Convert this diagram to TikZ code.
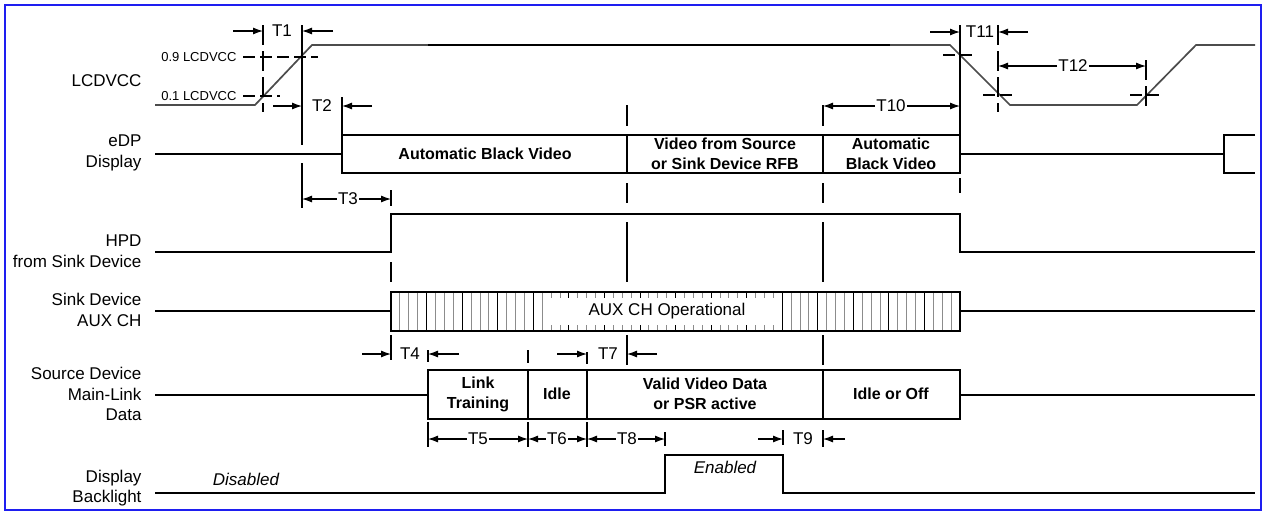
\documentclass[tikz,border=0pt]{standalone}
\usepackage{fontspec}
\setmainfont{Liberation Sans}
\usetikzlibrary{arrows.meta}
\definecolor{framblue}{HTML}{1E1EF0}
\definecolor{hatchgray}{HTML}{8C8C8C}

\begin{document}
\begin{tikzpicture}[x=1pt, y=-1pt, >={Latex[length=10pt,width=7pt]},
  sig/.style={line width=2.9pt},
  vcc/.style={line width=1.7pt, black!70},
  guide/.style={line width=1.2pt},
  dguide/.style={line width=1.2pt, dash pattern=on 20pt off 6pt},
  lvl/.style={line width=1.2pt, dash pattern=on 12pt off 5pt},
  dim/.style={line width=1.1pt, ->},
  lbl/.style={anchor=east, align=right, font=\fontsize{17}{20.5}\selectfont},
  lvllab/.style={anchor=east, font=\fontsize{13}{14}\selectfont},
  tlab/.style={font=\fontsize{17}{18}\selectfont, inner sep=1pt},
  boxtxt/.style={align=center, font=\bfseries\fontsize{16}{20}\selectfont},
  mode/.style={font=\itshape\fontsize{17}{20}\selectfont}]
\useasboundingbox (0,0) rectangle (1263,512);
\draw[framblue, line width=1.5pt] (5,5) rectangle (1261,510);

% signal names
\node[lbl] (nvcc) at (145,81) {LCDVCC};
\node[lbl] (nedp) at (145,153) {eDP\\Display};
\node[lbl] (nhpd) at (145,251) {HPD\\from Sink Device};
\node[lbl] (naux) at (145,310) {Sink Device\\AUX CH};
\node[lbl] (nml) at (145,394) {Source Device\\Main-Link\\Data};
\node[lbl] (nbl) at (145,488) {Display\\Backlight};

% LCDVCC
\draw[vcc] (155,105) -- (255,105) -- (312,45) -- (950,45) -- (1010,105) -- (1137,105) -- (1196,45) -- (1255,45);
\draw[sig] (428,45) -- (890,45);
\node[lvllab] (l9) at (240,57) {0.9 LCDVCC};
\node[lvllab] (l1) at (240,96) {0.1 LCDVCC};
\draw[lvl] (l9.east) ++(3,0) -- (318,57);
\draw[lvl] (l1.east) ++(3,0) -- (280,96);
\draw[dguide] (263,25) -- (263,112);
\draw[guide] (302,25) -- (302,145) (302,163) -- (302,208);
\draw[guide] (342,97) -- (342,135);
\draw[guide] (960,25) -- (960,135) (960,178) -- (960,193);
\draw[dguide] (998,25) -- (998,112);
\draw[dguide] (1146,60) -- (1146,112);
\draw[lvl] (943,55) -- (976,55);
\draw[lvl] (983,95) -- (1015,95);
\draw[lvl] (1130,95) -- (1162,95);

% eDP display
\draw[sig] (155,154) -- (342,154);
\draw[sig] (342,135) rectangle (960,173);
\draw[sig] (627,135) -- (627,173) (823,135) -- (823,173);
\draw[sig] (960,154) -- (1224,154);
\draw[sig] (1255,135) -- (1224,135) -- (1224,173) -- (1255,173);
\node[boxtxt] (abv) at (485,154) {Automatic Black Video};
\node[boxtxt] (vsrc) at (725,154) {Video from Source\\or Sink Device RFB};
\node[boxtxt] (abv2) at (891,154) {Automatic\\Black Video};

% HPD
\draw[sig] (155,252) -- (391,252) -- (391,214) -- (960,214) -- (960,252) -- (1255,252);

% AUX CH
\draw[sig] (155,311) -- (391,311);
\foreach \k in {1,...,63} {
  \pgfmathsetmacro\hx{391+\k*8.89}
  \pgfmathparse{mod(\k,4)==0 ? "black" : "hatchgray"}
  \edef\hc{\pgfmathresult}
  \ifdim\hx pt>548pt \ifdim\hx pt<777pt
    \draw[\hc, line width=0.8pt] (\hx,292) -- (\hx,298) (\hx,325) -- (\hx,331);
  \else
    \draw[\hc, line width=0.8pt] (\hx,292) -- (\hx,331);
  \fi \else
    \draw[\hc, line width=0.8pt] (\hx,292) -- (\hx,331);
  \fi
}
\draw[sig] (391,292) rectangle (960,331);
\draw[sig] (960,311) -- (1255,311);
\node[font=\fontsize{17}{20}\selectfont] (auxop) at (667,311) {AUX CH Operational};

% main link
\draw[sig] (155,395) -- (428,395);
\draw[sig] (428,370) rectangle (960,419);
\draw[sig] (528,370) -- (528,419) (587,370) -- (587,419) (823,370) -- (823,419);
\draw[sig] (960,395) -- (1255,395);
\node[boxtxt] (lt) at (478,394) {Link\\Training};
\node[boxtxt] (idl) at (557,394) {Idle};
\node[boxtxt] (vvd) at (705,394) {Valid Video Data\\or PSR active};
\node[boxtxt] (ioo) at (891,394) {Idle or Off};

% backlight
\draw[sig] (155,493) -- (665,493) -- (665,455) -- (783,455) -- (783,493) -- (1255,493);
\node[mode] (dis) at (246,479) {Disabled};
\node[mode] (ena) at (725,467) {Enabled};

% column guides
\foreach \x in {627,823} {
  \draw[guide] (\x,105) -- (\x,126) (\x,183) -- (\x,203) (\x,222) -- (\x,282) (\x,335) -- (\x,365);
}
\draw[guide] (391,190) -- (391,206) (391,262) -- (391,282) (391,335) -- (391,360);
\draw[guide] (428,350) -- (428,362) (528,350) -- (528,363) (587,352) -- (587,364);
\foreach \x in {428,528,587} \draw[guide] (\x,422) -- (\x,447);
\draw[guide] (665,432) -- (665,446) (783,430) -- (783,445) (823,430) -- (823,447);

% timings
\node[tlab] (t1) at (282,31) {T1};
\draw[dim] (233,31) -- (263,31); \draw[dim] (333,31) -- (302,31);
\node[tlab] (t2) at (322,106) {T2};
\draw[dim] (273,106) -- (302,106); \draw[dim] (372,106) -- (342,106);
\node[tlab] (t3) at (348,199) {T3};
\draw[dim] (t3.west) -- (302,199); \draw[dim] (t3.east) -- (391,199);
\node[tlab] (t4) at (410,354) {T4};
\draw[dim] (362,354) -- (391,354); \draw[dim] (459,354) -- (428,354);
\node[tlab] (t7) at (608,354) {T7};
\draw[dim] (557,354) -- (587,354); \draw[dim] (657,354) -- (627,354);
\node[tlab] (t5) at (478,439) {T5};
\draw[dim] (t5.west) -- (428,439); \draw[dim] (t5.east) -- (528,439);
\node[tlab] (t6) at (557,439) {T6};
\draw[dim] (t6.west) -- (528,439); \draw[dim] (t6.east) -- (587,439);
\node[tlab] (t8) at (627,439) {T8};
\draw[dim] (t8.west) -- (587,439); \draw[dim] (t8.east) -- (665,439);
\node[tlab] (t9) at (803,439) {T9};
\draw[dim] (758,439) -- (783,439); \draw[dim] (845,439) -- (823,439);
\node[tlab] (t10) at (891,106) {T10};
\draw[dim] (t10.west) -- (823,106); \draw[dim] (t10.east) -- (960,106);
\node[tlab] (t11) at (980,32) {T11};
\draw[dim] (930,32) -- (960,32); \draw[dim] (1028,32) -- (998,32);
\node[tlab] (t12) at (1073,66) {T12};
\draw[dim] (t12.west) -- (998,66); \draw[dim] (t12.east) -- (1146,66);
\end{tikzpicture}
\end{document}
